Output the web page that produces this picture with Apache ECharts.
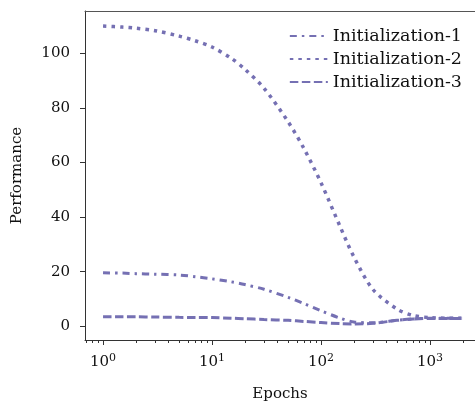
<!DOCTYPE html>
<html>
<head>
<meta charset="utf-8">
<script src="https://cdn.jsdelivr.net/npm/echarts@6/dist/echarts.min.js"></script>
<style>html,body{margin:0;padding:0;background:#fff;}#c{width:475px;height:404px;}</style>
</head>
<body>
<div id="c"></div>
<script>
const epochs = [1, 1.5, 2, 3, 5, 7, 10, 15, 20, 30, 50, 70, 100, 150, 200, 300, 500, 700, 1000, 1500, 2000];
const init1 = [19.6, 19.5, 19.3, 19.1, 18.8, 18.2, 17.4, 16.3, 15.3, 13.6, 10.6, 8.3, 5.7, 3.0, 1.6, 1.3, 2.2, 2.7, 3.0, 3.0, 3.0];
const init2 = [110, 109.6, 109.2, 108.3, 106.3, 104.6, 102.3, 98.2, 94.2, 87.2, 74.9, 65, 52.6, 36.5, 25.5, 13.5, 6.3, 4.0, 3.2, 3.0, 3.0];
const init3 = [3.5, 3.5, 3.5, 3.4, 3.3, 3.25, 3.2, 3.0, 2.8, 2.5, 2.2, 1.8, 1.4, 1.0, 0.9, 1.1, 2.2, 2.7, 2.9, 2.9, 2.9];
const seriesNames = ['Initialization-1', 'Initialization-2', 'Initialization-3'];
const xMajorTicks = [1, 10, 100, 1000];
const xMinorTicks = [0.7, 0.8, 0.9, 2, 3, 4, 5, 6, 7, 8, 9, 20, 30, 40, 50, 60, 70, 80, 90, 200, 300, 400, 500, 600, 700, 800, 900, 2000];
const yTicks = [0, 20, 40, 60, 80, 100];

const color = '#7570b3';
const font = 'DejaVu Serif';
const zip = arr => epochs.map((e, i) => [e, arr[i]]);
const dashes = [[7, 5, 2.5, 5], [3.5, 5], [8.5, 3.5]];
const widths = [3, 3.5, 3];
const datas = [init1, init2, init3];

const chart = echarts.init(document.getElementById('c'), null, {renderer: 'canvas'});
chart.setOption({
  animation: false,
  backgroundColor: '#fff',
  grid: {left: 85, right: 0, top: 11, bottom: 64, containLabel: false, outerBoundsMode: 'none'},
  legend: {
    right: 8, top: 22, orient: 'vertical',
    itemWidth: 38, itemHeight: 14, itemGap: 5,
    itemStyle: {opacity: 0},
    textStyle: {fontFamily: font, fontSize: 17.5, lineHeight: 17, color: '#111'},
    data: seriesNames
  },
  xAxis: [
    {
      type: 'log', min: 0.683, max: 2590, position: 'bottom',
      name: 'Epochs', nameLocation: 'middle', nameGap: 47,
      nameTextStyle: {fontFamily: font, fontSize: 15, color: '#111'},
      axisLine: {show: true, onZero: false, lineStyle: {color: '#333', width: 1}},
      axisTick: {show: true, customValues: xMajorTicks, length: 5, lineStyle: {color: '#333'}},
      axisLabel: {
        customValues: xMajorTicks, margin: 13,
        formatter: v => '10{sup|' + Math.round(Math.log10(v)) + '}',
        rich: {sup: {fontFamily: font, fontSize: 11, color: '#111', verticalAlign: 'bottom', padding: [0, 0, 8, 0]}},
        fontFamily: font, fontSize: 15, color: '#111'
      },
      splitLine: {show: false}
    },
    {
      type: 'log', min: 0.683, max: 2590, position: 'bottom',
      axisLine: {show: false, onZero: false},
      axisTick: {show: true, customValues: xMinorTicks, length: 3, lineStyle: {color: '#333'}},
      axisLabel: {show: false},
      splitLine: {show: false}
    },
    {
      type: 'log', min: 0.683, max: 2590, position: 'top',
      axisLine: {show: true, onZero: false, lineStyle: {color: '#555', width: 1}},
      axisTick: {show: false}, axisLabel: {show: false}, splitLine: {show: false}
    }
  ],
  yAxis: {
    type: 'value', min: -5, max: 115.5,
    name: 'Performance', nameLocation: 'middle', nameGap: 60,
    nameTextStyle: {fontFamily: font, fontSize: 15, color: '#111'},
    axisLine: {show: true, onZero: false, lineStyle: {color: '#333', width: 1}},
    axisTick: {show: true, customValues: yTicks, length: 5, lineStyle: {color: '#333'}},
    axisLabel: {customValues: yTicks, margin: 15, fontFamily: font, fontSize: 15, color: '#111'},
    splitLine: {show: false}
  },
  series: seriesNames.map((n, i) => ({
    name: n, type: 'line', xAxisIndex: 0, smooth: 0.3, symbol: 'none',
    data: zip(datas[i]),
    lineStyle: {color: color, width: widths[i], type: dashes[i], cap: 'butt'},
    itemStyle: {color: color}
  }))
});
</script>
</body>
</html>
